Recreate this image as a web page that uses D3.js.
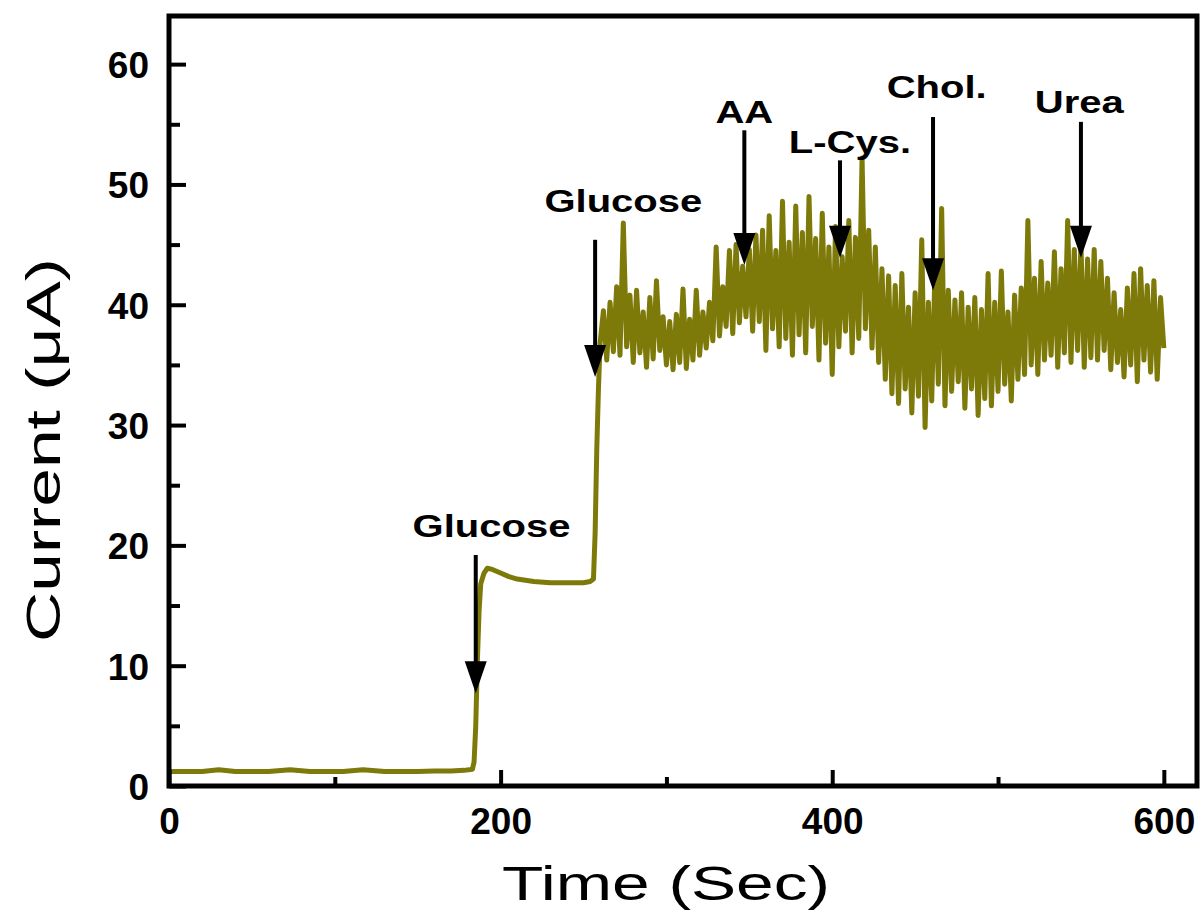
<!DOCTYPE html>
<html>
<head>
<meta charset="utf-8">
<script src="https://cdn.jsdelivr.net/npm/d3@7"></script>
<style>
  body { margin: 0; background: #fff; }
  svg { display: block; font-family: "Liberation Sans", Arial, sans-serif; }
</style>
</head>
<body>
<div id="chart"></div>
<script>
// Baseline + first glucose step (seconds, µA)
const stepTimes = [0, 10, 20, 30, 40, 50, 60, 73, 85, 95, 105, 117, 130, 140, 150, 160, 170, 178, 183, 184,
  185, 186, 187, 188, 190, 192, 195, 200, 205, 210, 220, 230, 240, 250, 254, 256, 257, 258, 259];
const stepCurrent = [1.2, 1.2, 1.2, 1.35, 1.2, 1.2, 1.2, 1.35, 1.2, 1.2, 1.2, 1.35, 1.2, 1.2, 1.2, 1.25, 1.25, 1.3, 1.4, 2.0,
  5.0, 10.5, 14.5, 16.8, 17.7, 18.1, 18.0, 17.7, 17.4, 17.2, 17.0, 16.9, 16.9, 16.9, 17.0, 17.2, 21.0, 28.0, 33.0];

// Noisy trace after the second glucose addition, one reading every 2 s from 260 s
const noiseStart = 260;
const noiseStep = 2;
const noiseCurrent = [
  36.8, 39.5, 35.4, 40.2, 36.1, 41.5, 35.8, 46.8, 36.5, 40.8,
  35.2, 41.2, 36.0, 39.4, 34.8, 40.6, 35.5, 42.0, 36.2, 39.0,
  35.0, 38.6, 34.6, 39.2, 35.2, 41.3, 34.7, 38.8, 35.4, 41.2,
  35.8, 39.4, 36.4, 40.2, 37.0, 44.8, 37.4, 41.5, 38.2, 44.5,
  37.6, 45.0, 38.5, 43.2, 39.0, 44.6, 37.8, 45.8, 38.6, 46.2,
  36.2, 47.4, 38.0, 44.5, 36.5, 48.6, 37.2, 45.2, 35.8, 48.2,
  37.5, 46.0, 36.0, 49.0, 38.2, 45.5, 35.4, 47.6, 36.8, 44.8,
  34.2, 46.5, 36.5, 44.0, 37.8, 47.0, 36.0, 45.6, 37.2, 52.2,
  38.0, 46.2, 36.4, 44.8, 35.2, 43.0, 33.8, 42.4, 32.6, 41.6,
  31.8, 42.6, 33.0, 39.8, 31.0, 41.0, 32.4, 45.4, 29.8, 40.2,
  32.0, 43.0, 33.4, 48.0, 31.6, 41.2, 32.8, 40.4, 33.6, 41.0,
  31.4, 39.8, 33.0, 40.6, 30.8, 39.6, 32.2, 42.6, 31.6, 40.2,
  32.8, 42.8, 33.4, 39.4, 32.0, 40.8, 33.8, 41.4, 34.2, 47.0,
  35.0, 42.2, 34.2, 43.6, 35.4, 41.8, 35.8, 44.4, 34.8, 43.0,
  36.0, 47.0, 35.2, 44.6, 36.2, 45.0, 34.8, 43.8, 35.6, 44.6,
  35.4, 43.6, 36.2, 42.2, 34.6, 41.0, 35.2, 39.6, 34.0, 41.4,
  35.0, 42.6, 33.6, 43.0, 35.4, 41.6, 34.4, 42.0, 33.8, 40.6,
  36.4
];

// Injection arrows: label, time, tail / tip current, label anchor (time, current)
const injLabels = ["Glucose", "Glucose", "AA", "L-Cys.", "Chol.", "Urea"];
const injTime = [185, 257, 347, 404.7, 460.8, 550];
const injTail = [19.2, 45.4, 54.5, 52.0, 55.6, 55.2];
const injTip = [7.7, 34.0, 43.3, 43.9, 41.2, 43.9];
const injLabelTime = [194.5, 274, 347, 410.7, 463, 549];
const injLabelCurrent = [20.7, 47.7, 55.1, 52.6, 57.2, 55.9];

const xMajor = [0, 200, 400, 600];
const xMinor = [100, 300, 500];
const yMajor = [0, 10, 20, 30, 40, 50, 60];
const yMinor = [5, 15, 25, 35, 45, 55];

class CurrentTrace {
  constructor(_config) {
    this.config = {
      parentElement: _config.parentElement,
      containerWidth: 1202,
      containerHeight: 924,
      color: _config.color || "#7d7a0a",
      margin: { top: 16, bottom: 138, right: 5, left: 169 },
    };
    this.initVis();
  }

  initVis() {
    const vis = this;
    const m = vis.config.margin;
    vis.width = vis.config.containerWidth - m.left - m.right;
    vis.height = vis.config.containerHeight - m.top - m.bottom;

    vis.svgRoot = d3
      .select(vis.config.parentElement)
      .append("svg")
      .attr("width", vis.config.containerWidth)
      .attr("height", vis.config.containerHeight);

    vis.svg = vis.svgRoot
      .append("g")
      .attr("transform", `translate(${m.left},${m.top})`);

    vis.x = d3.scaleLinear().domain([0, 620]).range([0, vis.width]);
    vis.y = d3.scaleLinear().domain([0, 64]).range([vis.height, 0]);

    vis.data = stepTimes.map((t, i) => ({ t: t, v: stepCurrent[i] }))
      .concat(noiseCurrent.map((v, i) => ({ t: noiseStart + i * noiseStep, v: v })));

    vis.updateVis();
  }

  updateVis() {
    const vis = this;

    // trace
    const line = d3.line().x((d) => vis.x(d.t)).y((d) => vis.y(d.v));
    vis.svg
      .append("path")
      .datum(vis.data)
      .attr("fill", "none")
      .attr("stroke", vis.config.color)
      .attr("stroke-width", 5)
      .attr("stroke-linejoin", "round")
      .attr("d", line);

    // axes (ticks pointing inward)
    const xAxis = vis.svg.append("g")
      .attr("transform", `translate(0,${vis.height})`)
      .call(d3.axisBottom(vis.x).tickValues(xMajor).tickSize(-16).tickPadding(22));
    vis.svg.append("g")
      .attr("transform", `translate(0,${vis.height})`)
      .call(d3.axisBottom(vis.x).tickValues(xMinor).tickSize(-9).tickFormat(""));
    const yAxis = vis.svg.append("g")
      .call(d3.axisLeft(vis.y).tickValues(yMajor).tickSize(-17).tickPadding(20));
    vis.svg.append("g")
      .call(d3.axisLeft(vis.y).tickValues(yMinor).tickSize(-11).tickFormat(""));

    vis.svg.selectAll(".domain").remove();
    vis.svg.selectAll(".tick line").attr("stroke", "#000").attr("stroke-width", 4);
    xAxis.selectAll("text").attr("font-size", 37).attr("font-weight", "bold")
      .attr("fill", "#000").attr("dy", "0.71em");
    yAxis.selectAll("text").attr("font-size", 37).attr("font-weight", "bold")
      .attr("fill", "#000").attr("dy", "0.36em");

    // frame
    vis.svg.append("rect")
      .attr("width", vis.width)
      .attr("height", vis.height)
      .attr("fill", "none")
      .attr("stroke", "#000")
      .attr("stroke-width", 5);

    // injection arrows
    const arrows = vis.svg.selectAll("g.inj")
      .data(injLabels.map((label, i) => ({ label, i })))
      .join("g")
      .attr("class", "inj");

    arrows.append("line")
      .attr("x1", (d) => vis.x(injTime[d.i]))
      .attr("x2", (d) => vis.x(injTime[d.i]))
      .attr("y1", (d) => vis.y(injTail[d.i]))
      .attr("y2", (d) => vis.y(injTip[d.i]) - 20)
      .attr("stroke", "#000")
      .attr("stroke-width", 4);

    arrows.append("path")
      .attr("transform", (d) => `translate(${vis.x(injTime[d.i])},${vis.y(injTip[d.i])})`)
      .attr("d", "M0,0 L-11,-32 L11,-32 Z")
      .attr("fill", "#000");

    arrows.append("text")
      .attr("transform", (d) =>
        `translate(${vis.x(injLabelTime[d.i])},${vis.y(injLabelCurrent[d.i])}) scale(1.25,1)`)
      .attr("text-anchor", "middle")
      .attr("font-size", 32)
      .attr("font-weight", "bold")
      .attr("fill", "#000")
      .text((d) => d.label);

    // axis titles
    vis.svgRoot.append("text")
      .attr("transform", "translate(666,900) scale(1.38,1)")
      .attr("text-anchor", "middle")
      .attr("font-size", 49)
      .attr("fill", "#000")
      .text("Time (Sec)");

    vis.svgRoot.append("text")
      .attr("transform", "translate(60,450) rotate(-90) scale(1.42,1)")
      .attr("text-anchor", "middle")
      .attr("font-size", 49)
      .attr("fill", "#000")
      .text("Current (\u03bcA)");
  }
}

new CurrentTrace({ parentElement: "#chart" });
</script>
</body>
</html>
